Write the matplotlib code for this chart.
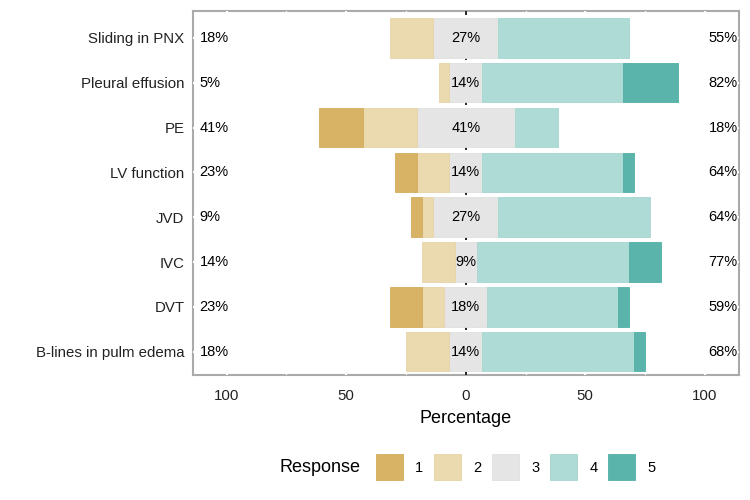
import numpy as np
import matplotlib.pyplot as plt
from matplotlib.patches import Patch

plt.rcParams['font.family'] = ['Liberation Sans', 'DejaVu Sans']

# items from top to bottom, answer shares in % (n = 22)
items = ["Sliding in PNX", "Pleural effusion", "PE", "LV function",
         "JVD", "IVC", "DVT", "B-lines in pulm edema"]
r1 = np.array([0, 0, 4, 2, 1, 0, 3, 0]) / 22 * 100
r2 = np.array([4, 1, 5, 3, 1, 3, 2, 4]) / 22 * 100
r3 = np.array([6, 3, 9, 3, 6, 2, 4, 3]) / 22 * 100
r4 = np.array([12, 13, 4, 13, 14, 14, 12, 14]) / 22 * 100
r5 = np.array([0, 5, 0, 1, 0, 3, 1, 1]) / 22 * 100

low_lbl = ["18%", "5%", "41%", "23%", "9%", "14%", "23%", "18%"]
mid_lbl = ["27%", "14%", "41%", "14%", "27%", "9%", "18%", "14%"]
high_lbl = ["55%", "82%", "18%", "64%", "64%", "77%", "59%", "68%"]

colores = ["#D8B365", "#EBD9B0", "#E5E5E5", "#AEDBD6", "#5AB4AC"]
bordes = ["#D2AC5C", "#E6D3A8", "#E0E0E0", "#A6D6D0", "#52AFA6"]

fig = plt.figure(figsize=(7.5, 5), dpi=100)
ax = fig.add_axes([0.257, 0.25, 0.728, 0.728])

y = np.arange(len(items))[::-1]
h = 0.88


def barra(ancho, izq, k):
    # sin borde en las barras de ancho cero
    ax.barh(y, ancho, left=izq, height=h, color=colores[k], edgecolor=bordes[k],
            lw=np.where(ancho > 0, 0.6, 0.0), zorder=4)


# lado negativo: 3 partido a la mitad, luego 2 y 1
izq3 = -r3 / 2
barra(r3, izq3, 2)
barra(r2, izq3 - r2, 1)
barra(r1, izq3 - r2 - r1, 0)
# lado positivo
barra(r4, r3 / 2, 3)
barra(r5, r3 / 2 + r4, 4)

# grilla blanca por encima del borde
for xv in [-100, -50, 0, 50, 100]:
    ax.axvline(xv, color="white", lw=1.6, zorder=3)
for xv in [-75, -25, 25, 75]:
    ax.axvline(xv, color="white", lw=0.9, zorder=3)
for yv in y:
    ax.axhline(yv, color="white", lw=1.6, zorder=3)

ax.axvline(0, color="black", lw=1.2, ls=(0, (3, 6)), zorder=3.5)

for i in range(len(items)):
    ax.text(-111.3, y[i], low_lbl[i], ha="left", va="center", fontsize=10.5, zorder=5)
    ax.text(0, y[i], mid_lbl[i], ha="center", va="center", fontsize=10.5, zorder=5)
    ax.text(113.8, y[i], high_lbl[i], ha="right", va="center", fontsize=10.5, zorder=5)

ax.set_xlim(-114.2, 114.2)
ax.set_ylim(-0.52, 7.6)
ax.set_yticks(y)
ax.set_yticklabels(items, fontsize=10.8, color="#222222")
ax.tick_params(axis="y", length=0, pad=6)
ax.set_xticks([-100, -50, 0, 50, 100])
ax.set_xticklabels(["100", "50", "0", "50", "100"], fontsize=10.8, color="#222222")
ax.tick_params(axis="x", length=0, pad=10)
ax.set_xlabel("Percentage", fontsize=13, labelpad=5)
for s in ax.spines.values():
    s.set_color("#AAAAAA")
    s.set_linewidth(1.5)

handles = [Patch(facecolor=c, edgecolor=b, lw=0.6) for c, b in zip(colores, bordes)]
fig.text(0.373, 0.066, "Response", fontsize=13, ha="left", va="center")
fig.legend(handles, ["1", "2", "3", "4", "5"], ncol=5, frameon=False,
           loc="center left", bbox_to_anchor=(0.501, 0.066), fontsize=10.5,
           handlelength=1.9, handleheight=2.3, handletextpad=0.8, columnspacing=0.72,
           borderpad=0, borderaxespad=0)

fig.savefig("out.png", dpi=100)
